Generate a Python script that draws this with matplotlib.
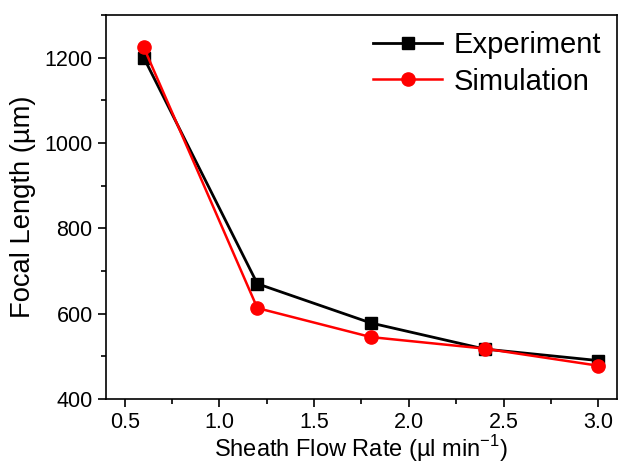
import matplotlib
matplotlib.use("Agg")
from matplotlib import pyplot as plt
from matplotlib.ticker import MultipleLocator

plt.rcParams['font.family'] = ['Liberation Sans', 'DejaVu Sans']

flow_rate = [0.6, 1.2, 1.8, 2.4, 3.0]
experiment = [1200, 670, 578, 517, 490]
simulation = [1224, 613, 545, 518, 478]

fig = plt.figure(figsize=(6.19, 4.65), dpi=100)
ax = fig.add_axes([0.171, 0.142, 0.826, 0.826])

ax.plot(flow_rate, experiment, color="black", lw=2, marker="s", ms=8.5, label="Experiment")
ax.plot(flow_rate, simulation, color="red", lw=1.8, marker="o", ms=9.5, label="Simulation")

ax.set_xlim(0.4, 3.1)
ax.set_ylim(400, 1300)
ax.xaxis.set_major_locator(MultipleLocator(0.5))
ax.xaxis.set_minor_locator(MultipleLocator(0.25))
ax.yaxis.set_major_locator(MultipleLocator(200))
ax.yaxis.set_minor_locator(MultipleLocator(100))
ax.tick_params(which="both", direction="out", labelsize=15.5, width=1.2)
ax.tick_params(which="major", length=6)
ax.tick_params(which="minor", length=3.5)
for s in ax.spines.values():
    s.set_linewidth(1.2)

ax.set_xlabel("Sheath Flow Rate (\u00b5l min$^{\\mathregular{-1}}$)", fontsize=17, labelpad=0)
ax.set_ylabel("Focal Length (\u00b5m)", fontsize=19.7, labelpad=6)

ax.legend(loc="upper right", frameon=False, fontsize=21, handlelength=2.35,
          borderaxespad=0.15, labelspacing=0.3, handletextpad=0.4)

fig.savefig("out.png", dpi=100)
